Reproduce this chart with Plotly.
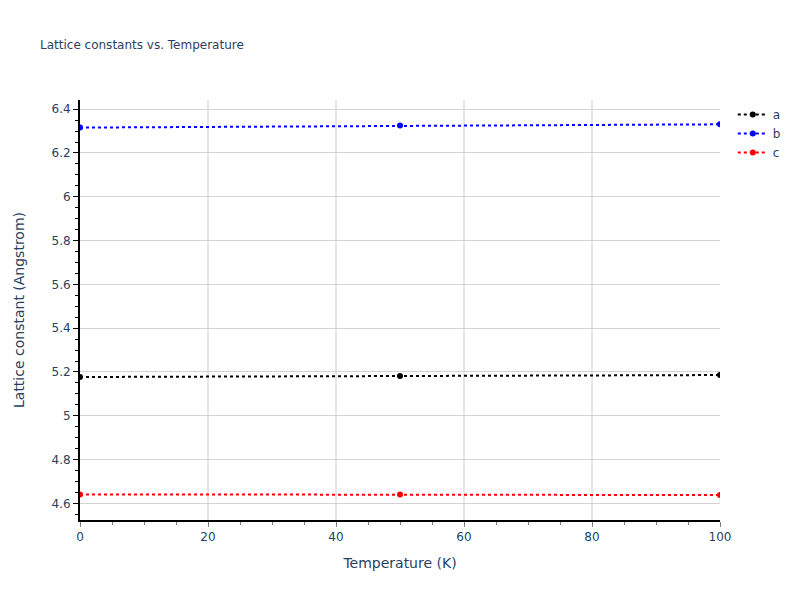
import plotly.graph_objects as go

temperature = [0, 50, 100]
lattice_a = [5.177, 5.182, 5.186]
lattice_b = [6.316, 6.325, 6.331]
lattice_c = [4.641, 4.641, 4.638]

series = [("a", lattice_a, "black"), ("b", lattice_b, "blue"), ("c", lattice_c, "red")]

fig = go.Figure()
for name, vals, color in series:
    fig.add_trace(go.Scatter(
        x=temperature, y=vals, name=name, mode="lines+markers",
        line=dict(color=color, dash="dot", width=2),
        marker=dict(color=color, size=6),
    ))

# page body has an 8px margin, so shrink the figure to keep the plot area where the reference has it
fig.update_layout(
    width=792, height=592,
    template="plotly_white",
    font=dict(family="DejaVu Sans"),
    title=dict(text="Lattice constants vs. Temperature", font=dict(size=12),
               x=32 / 792, y=1 - 37 / 592, yanchor="middle"),
    margin=dict(l=72, r=80, t=92, b=80),
    xaxis=dict(
        title="Temperature (K)", range=[0, 100], dtick=20,
        showline=True, linecolor="black", linewidth=2,
        ticks="outside", tickcolor="gray",
        minor=dict(dtick=5, ticks="outside", tickcolor="gray"),
        gridcolor="#e6e6e6", gridwidth=2, zeroline=False,
    ),
    yaxis=dict(
        title=dict(text="Lattice constant (Angstrom)", standoff=24),
        automargin=False,
        range=[4.524, 6.442], dtick=0.2,
        showline=True, linecolor="black", linewidth=2,
        ticks="outside", tickcolor="black",
        minor=dict(dtick=0.05, ticks="outside", tickcolor="black"),
        gridcolor="#d3d3d3", gridwidth=1, zeroline=False,
    ),
)

fig.write_html("out.html")
